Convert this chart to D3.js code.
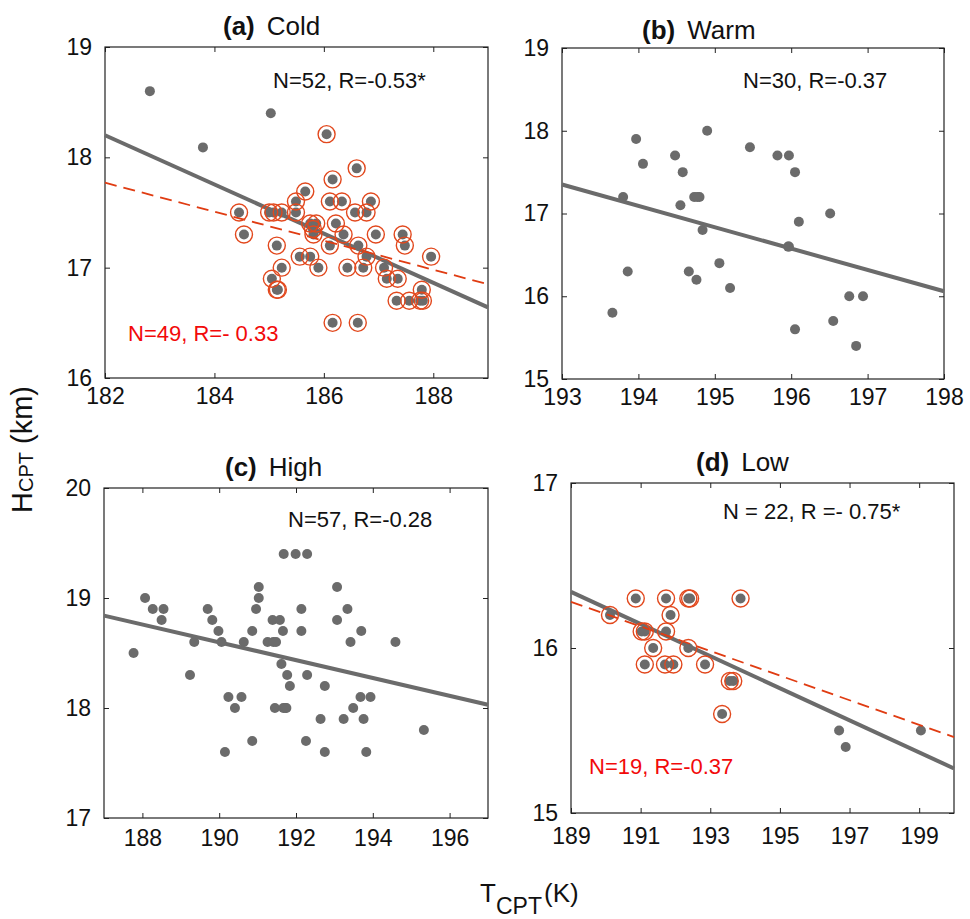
<!DOCTYPE html>
<html>
<head>
<meta charset="utf-8">
<script src="https://cdn.jsdelivr.net/npm/d3@7"></script>
<style>
  body { margin: 0; background: #fff; }
  svg { font-family: "Liberation Sans", Arial, sans-serif; }
</style>
</head>
<body>
<div id="chart"></div>
<script>
// (a) Cold - T_CPT (K), H_CPT (km), ring = selected (red circle)
const coldT = [182.82, 183.79, 185.03,
  186.05, 186.60, 186.16, 185.66, 185.49, 186.11, 186.33, 186.86, 184.45, 185.00,
  185.08, 185.23, 185.49, 186.57, 186.78, 184.54, 185.75, 185.86, 186.22, 185.81,
  185.80, 186.36, 186.95, 187.44, 185.14, 186.11, 186.63, 187.48, 185.56, 185.75,
  186.78, 187.96, 185.23, 185.90, 186.43, 186.72, 187.10, 185.05, 187.15, 187.35,
  187.79, 185.14, 185.16, 187.33, 187.56, 187.76, 187.81, 186.16, 186.62];
const coldH = [18.60, 18.09, 18.40,
  18.21, 17.90, 17.80, 17.69, 17.60, 17.60, 17.60, 17.60, 17.50, 17.50,
  17.50, 17.50, 17.50, 17.50, 17.50, 17.30, 17.40, 17.40, 17.40, 17.30,
  17.35, 17.30, 17.30, 17.30, 17.20, 17.20, 17.20, 17.20, 17.10, 17.10,
  17.10, 17.10, 17.00, 17.00, 17.00, 17.00, 17.00, 16.90, 16.90, 16.90,
  16.80, 16.80, 16.80, 16.70, 16.70, 16.70, 16.70, 16.50, 16.50];
const coldRing = coldT.map((d, i) => i >= 3);
const coldFitH = [18.20, 16.64];
const coldRedFitH = [17.77, 16.85];

// (b) Warm
const warmT = [193.66, 193.80, 193.86, 193.97, 194.06, 194.48, 194.58, 194.55, 194.66, 194.73,
  194.80, 194.77, 194.76, 194.84, 194.90, 195.06, 195.20, 195.46, 195.82, 195.97,
  196.05, 195.96, 195.97, 196.10, 196.05, 196.51, 196.55, 196.76, 196.94, 196.85];
const warmH = [15.80, 17.20, 16.30, 17.90, 17.60, 17.70, 17.50, 17.10, 16.30, 17.20,
  17.20, 17.20, 16.20, 16.80, 18.00, 16.40, 16.10, 17.80, 17.70, 17.70,
  17.50, 16.60, 16.60, 16.90, 15.60, 17.00, 15.70, 16.00, 16.00, 15.40];
const warmFitH = [17.35, 16.06];

// (c) High
const highT = [187.77, 188.07, 188.27, 188.55, 188.50, 189.35, 189.24, 189.70, 189.82, 189.98,
  190.06, 190.24, 190.58, 190.41, 190.15, 190.64, 190.86, 190.96, 191.03, 191.03,
  190.86, 191.26, 191.41, 191.39, 191.58, 191.66, 191.68, 191.99, 192.29, 191.62,
  191.77, 191.84, 191.45, 191.67, 191.75, 192.14, 192.14, 192.29, 192.26, 192.64,
  192.75, 192.75, 193.07, 193.07, 193.24, 193.34, 193.42, 193.49, 193.70, 193.68,
  193.94, 193.76, 193.83, 194.59, 195.33, 191.72, 191.48];
const highH = [18.50, 19.00, 18.90, 18.90, 18.80, 18.60, 18.30, 18.90, 18.80, 18.70,
  18.60, 18.10, 18.10, 18.00, 17.60, 18.60, 18.70, 18.90, 19.00, 19.10,
  17.70, 18.60, 18.60, 18.80, 18.80, 18.70, 19.40, 19.40, 19.40, 18.40,
  18.30, 18.20, 18.00, 18.00, 18.00, 18.90, 18.70, 18.30, 17.70, 17.90,
  18.20, 17.60, 19.10, 18.80, 17.90, 18.90, 18.60, 18.00, 18.70, 18.10,
  18.10, 17.90, 17.60, 18.60, 17.80, 18.00, 18.60];
const highFitH = [18.84, 18.03];

// (d) Low
const lowT = [190.12, 190.86, 191.03, 191.12, 191.12, 191.36, 191.73, 191.73, 191.86, 191.70,
  191.94, 192.37, 192.42, 192.37, 192.85, 193.34, 193.56, 193.66, 193.87,
  196.70, 196.89, 199.05];
const lowH = [16.20, 16.30, 16.10, 16.10, 15.90, 16.00, 16.30, 16.10, 16.20, 15.90,
  15.90, 16.30, 16.30, 16.00, 15.90, 15.60, 15.80, 15.80, 16.30,
  15.50, 15.40, 15.50];
const lowRing = lowT.map((d, i) => i < 19);
const lowFitH = [16.34, 15.27];
const lowRedFitH = [16.28, 15.46];

const width = 970;
const height = 919;

const grey = "#6b6b6b";
const ringColor = "#e2481d";
const dashColor = "#e03c12";
const noteRed = "#f20a0a";

const svg = d3.select("#chart")
  .append("svg")
  .attr("width", width)
  .attr("height", height);

const panels = [
  { left: 105, right: 488, top: 47, bottom: 378,
    xdom: [182, 189], xticks: [182, 184, 186, 188], ydom: [16, 19], yticks: [16, 17, 18, 19],
    T: coldT, H: coldH, ring: coldRing, fit: coldFitH, redFit: coldRedFitH,
    tag: "(a)", name: "Cold", titleX: 223, titleY: 35,
    note: "N=52, R=-0.53*", noteX: 273, noteY: 88,
    redNote: "N=49, R=- 0.33", redX: 128, redY: 341, pad: 10 },
  { left: 562, right: 944, top: 48, bottom: 379,
    xdom: [193, 198], xticks: [193, 194, 195, 196, 197, 198], ydom: [15, 19], yticks: [15, 16, 17, 18, 19],
    T: warmT, H: warmH, ring: null, fit: warmFitH, redFit: null,
    tag: "(b)", name: "Warm", titleX: 642, titleY: 39,
    note: "N=30, R=-0.37", noteX: 743, noteY: 88, pad: 10 },
  { left: 104, right: 488, top: 488, bottom: 818,
    xdom: [187, 197], xticks: [188, 190, 192, 194, 196], ydom: [17, 20], yticks: [17, 18, 19, 20],
    T: highT, H: highH, ring: null, fit: highFitH, redFit: null,
    tag: "(c)", name: "High", titleX: 225, titleY: 476,
    note: "N=57, R=-0.28", noteX: 288, noteY: 527, pad: 12 },
  { left: 571, right: 954, top: 483, bottom: 813,
    xdom: [189, 200], xticks: [189, 191, 193, 195, 197, 199], ydom: [15, 17], yticks: [15, 16, 17],
    T: lowT, H: lowH, ring: lowRing, fit: lowFitH, redFit: lowRedFitH,
    tag: "(d)", name: "Low", titleX: 696, titleY: 471,
    note: "N = 22, R =- 0.75*", noteX: 723, noteY: 519,
    redNote: "N=19, R=-0.37", redX: 589, redY: 774, pad: 15 }
];

const fmt = d3.format("d");

panels.forEach(function(p) {
  const x = d3.scaleLinear().domain(p.xdom).range([p.left, p.right]);
  const y = d3.scaleLinear().domain(p.ydom).range([p.bottom, p.top]);
  const g = svg.append("g");

  //axes with inner ticks on all four sides
  g.append("g")
    .attr("transform", "translate(0," + p.bottom + ")")
    .call(d3.axisBottom(x).tickValues(p.xticks).tickFormat(fmt).tickSizeInner(-5).tickSizeOuter(0).tickPadding(p.pad))
    .call(s => s.selectAll("text").style("font-size", "23px").attr("fill", "#111"));
  g.append("g")
    .attr("transform", "translate(0," + p.top + ")")
    .call(d3.axisTop(x).tickValues(p.xticks).tickSizeInner(-5).tickSizeOuter(0).tickFormat(""));
  g.append("g")
    .attr("transform", "translate(" + p.left + ",0)")
    .call(d3.axisLeft(y).tickValues(p.yticks).tickFormat(fmt).tickSizeInner(-5).tickSizeOuter(0).tickPadding(13))
    .call(s => s.selectAll("text").style("font-size", "23px").attr("fill", "#111"));
  g.append("g")
    .attr("transform", "translate(" + p.right + ",0)")
    .call(d3.axisRight(y).tickValues(p.yticks).tickSizeInner(-5).tickSizeOuter(0).tickFormat(""));
  g.selectAll(".domain").remove();
  g.selectAll(".tick line").attr("stroke", "#222");

  g.append("rect")
    .attr("x", p.left).attr("y", p.top)
    .attr("width", p.right - p.left).attr("height", p.bottom - p.top)
    .attr("fill", "none").attr("stroke", "#222").attr("stroke-width", 1.2);

  //points
  const pts = p.T.map((t, i) => ({ t: t, h: p.H[i], ring: p.ring ? p.ring[i] : false }));
  g.selectAll("circle.dot")
    .data(pts)
    .enter().append("circle")
    .attr("class", "dot")
    .attr("cx", d => x(d.t))
    .attr("cy", d => y(d.h))
    .attr("r", 5)
    .attr("fill", grey);

  //fit lines
  g.append("line")
    .attr("x1", x(p.xdom[0])).attr("y1", y(p.fit[0]))
    .attr("x2", x(p.xdom[1])).attr("y2", y(p.fit[1]))
    .attr("stroke", grey).attr("stroke-width", 4);

  if (p.redFit) {
    g.append("line")
      .attr("x1", x(p.xdom[0])).attr("y1", y(p.redFit[0]))
      .attr("x2", x(p.xdom[1])).attr("y2", y(p.redFit[1]))
      .attr("stroke", dashColor).attr("stroke-width", 1.8)
      .attr("stroke-dasharray", "12,7");
  }

  g.selectAll("circle.ring")
    .data(pts.filter(d => d.ring))
    .enter().append("circle")
    .attr("class", "ring")
    .attr("cx", d => x(d.t))
    .attr("cy", d => y(d.h))
    .attr("r", 8.5)
    .attr("fill", "none")
    .attr("stroke", ringColor)
    .attr("stroke-width", 1.4);

  //title
  const title = svg.append("text")
    .attr("x", p.titleX).attr("y", p.titleY)
    .style("font-size", "26px").attr("fill", "#111");
  title.append("tspan").style("font-weight", "bold").text(p.tag);
  title.append("tspan").attr("dx", 12).text(p.name);

  svg.append("text")
    .attr("x", p.noteX).attr("y", p.noteY)
    .style("font-size", "22px").attr("fill", "#111")
    .text(p.note);

  if (p.redNote) {
    svg.append("text")
      .attr("x", p.redX).attr("y", p.redY)
      .style("font-size", "22px").attr("fill", noteRed)
      .text(p.redNote);
  }
});

//y axis label
const ylab = svg.append("text")
  .attr("transform", "translate(32,513) rotate(-90)")
  .attr("fill", "#111")
  .style("font-size", "29px");
ylab.append("tspan").text("H");
ylab.append("tspan").attr("dy", 1).style("font-size", "20px").text("CPT");
ylab.append("tspan").attr("dy", -1).text(" (km)");

//x axis label
const xlab = svg.append("text")
  .attr("y", 902)
  .attr("fill", "#111")
  .style("font-size", "26px");
xlab.append("tspan").attr("x", 480).text("T");
xlab.append("tspan").attr("x", 496).attr("dy", 12).style("font-size", "23px").text("CPT");
xlab.append("tspan").attr("x", 544).attr("dy", -12).text("(K)");
</script>
</body>
</html>
